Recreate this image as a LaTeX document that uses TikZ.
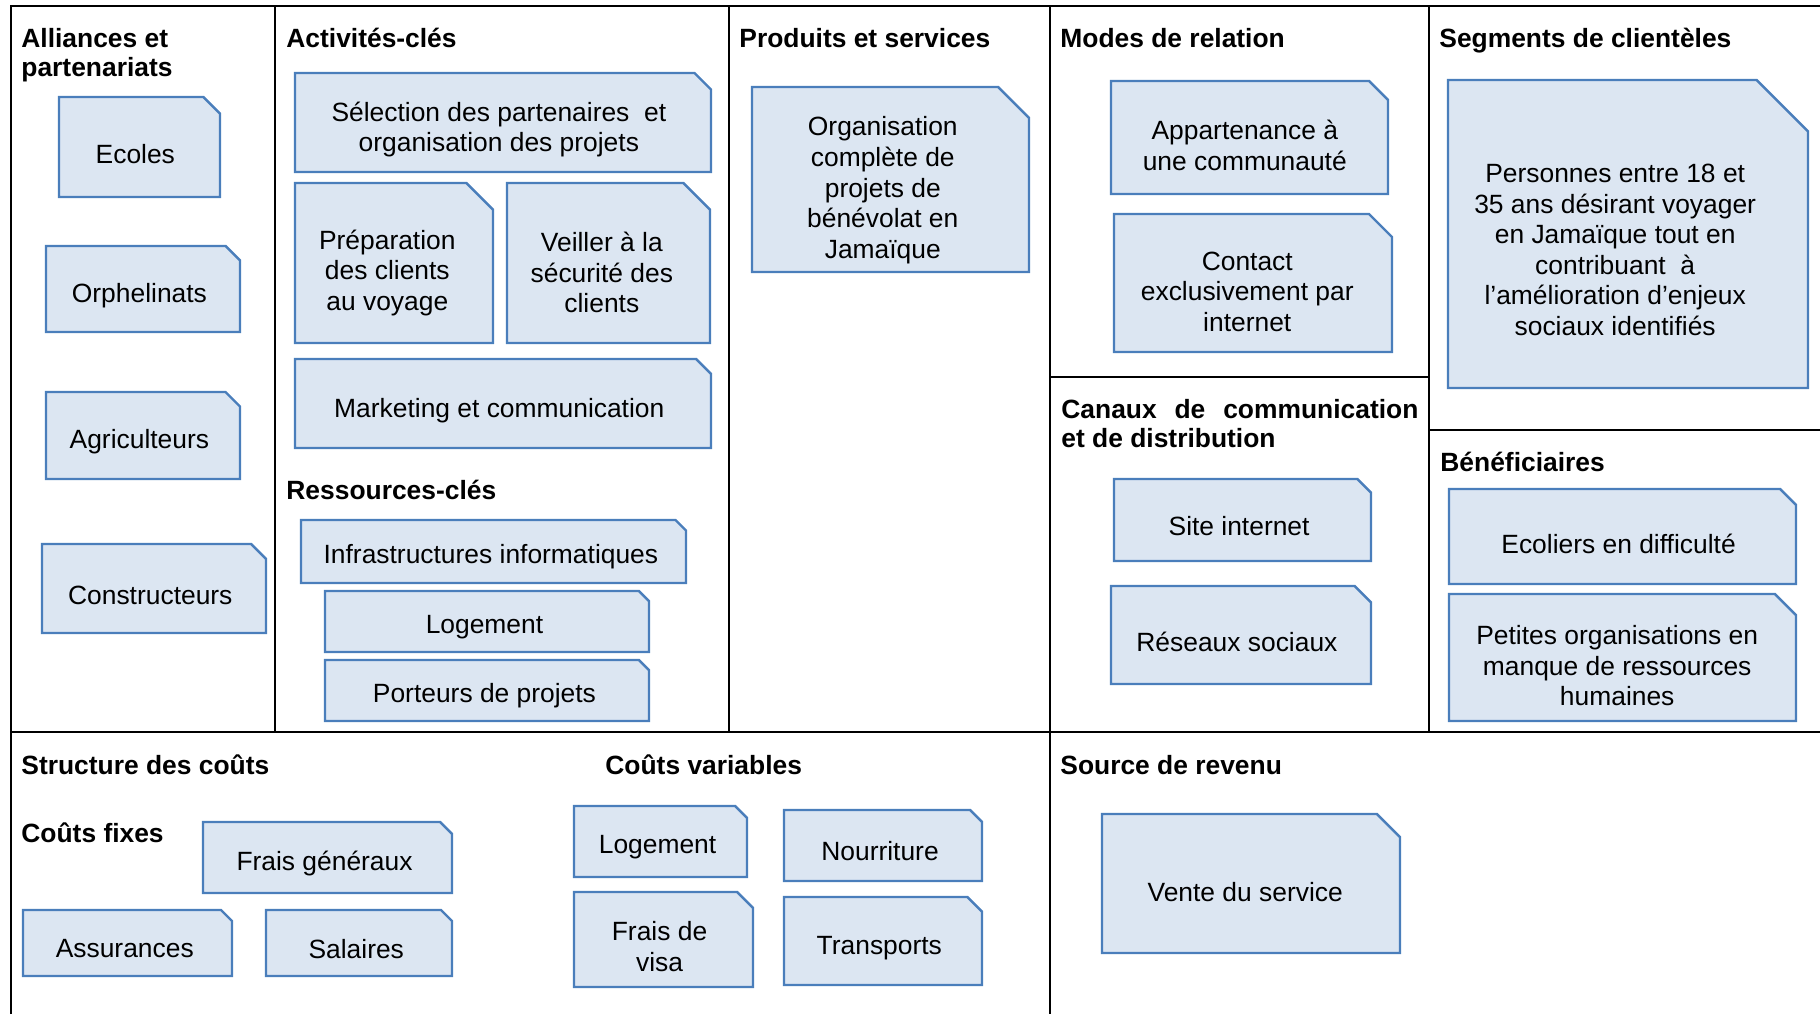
\documentclass[tikz,border=0pt]{standalone}
\usepackage{fontspec}
\setmainfont{Liberation Sans}
\definecolor{cardfill}{HTML}{DCE6F2}
\definecolor{cardline}{HTML}{4A7EBB}
\tikzset{
  cardshape/.style={draw=cardline, fill=cardfill, line width=1.2pt},
  card/.style={inner sep=0pt, align=center,
    font=\fontsize{13.2}{15.3}\selectfont},
  heading/.style={anchor=base west, inner sep=0pt, align=left,
    font=\fontsize{13.2}{14.5}\selectfont\bfseries},
  frame/.style={line width=1.3pt}
}
% card from its corners, snip = 1/6 of the short side
\newcommand*{\CardBox}[6]{%
  \pgfmathsetmacro{\CardC}{min(#4-#2,#5-#3)/6}%
  \filldraw[cardshape] (#2,#3) -- ({#4-\CardC},#3) -- (#4,{#3+\CardC})
    -- (#4,#5) -- (#2,#5) -- cycle;
  \node[card] (#1) at ({(#2+#4)/2-\CardC/4},{(#3+#5)/2+\CardC/4+3}) {#6};}

\begin{document}
\begin{tikzpicture}[x=0.5pt, y=-0.5pt]
\useasboundingbox (0,0) rectangle (1820,1014);

% Frame
\draw[frame] (11,1014) -- (11,6) -- (1820,6);
\draw[frame] (11,732) -- (1820,732);
\draw[frame] (275,6) -- (275,732);
\draw[frame] (729,6) -- (729,732);
\draw[frame] (1050,6) -- (1050,1014);
\draw[frame] (1429,6) -- (1429,732);
\draw[frame] (1050,377) -- (1429,377);
\draw[frame] (1429,430) -- (1820,430);

% Alliances et partenariats
\node[heading] (alliances) at (21,76) {Alliances et\\partenariats};
\CardBox{ecoles}{59}{97}{220}{197}{Ecoles}
\CardBox{orphelinats}{46}{246}{240}{332}{Orphelinats}
\CardBox{agriculteurs}{46}{392}{240}{479}{Agriculteurs}
\CardBox{constructeurs}{42}{544}{266}{633}{Constructeurs}

% Activites-cles
\node[heading] (activites) at (286,47) {Activités-clés};
\CardBox{selection}{295}{73}{711}{172}{Sélection des partenaires~ et\\organisation des projets}
\CardBox{preparation}{295}{183}{493}{343}{Préparation\\des clients\\au voyage}
\CardBox{securite}{507}{183}{710}{343}{Veiller à la\\sécurité des\\clients}
\CardBox{marketing}{295}{359}{711}{448}{Marketing et communication}

% Ressources-cles
\node[heading] (ressources) at (286,499) {Ressources-clés};
\CardBox{infra}{301}{520}{686}{583}{Infrastructures informatiques}
\CardBox{logement}{325}{591}{649}{652}{Logement}
\CardBox{porteurs}{325}{660}{649}{721}{Porteurs de projets}

% Produits et services
\node[heading] (produits) at (739,47) {Produits et services};
\CardBox{organisation}{752}{87}{1029}{272}{Organisation\\complète de\\projets de\\bénévolat en\\Jamaïque}

% Modes de relation
\node[heading] (modes) at (1060,47) {Modes de relation};
\CardBox{appartenance}{1111}{81}{1388}{194}{Appartenance à\\une communauté}
\CardBox{contact}{1114}{214}{1392}{352}{Contact\\exclusivement par\\internet}

% Canaux
\node[heading] (canaux) at (1061,447) {\makebox[178.5pt][s]{Canaux de communication}\\et de distribution};
\CardBox{site}{1114}{479}{1371}{561}{Site internet}
\CardBox{reseaux}{1111}{586}{1371}{684}{Réseaux sociaux}

% Segments de clienteles
\node[heading] (segments) at (1439,47) {Segments de clientèles};
\CardBox{personnes}{1448}{80}{1808}{388}{Personnes entre 18 et\\35 ans désirant voyager\\en Jamaïque tout en\\contribuant~ à\\l’amélioration d’enjeux\\sociaux identifiés}

% Beneficiaires
\node[heading] (beneficiaires) at (1440,471) {Bénéficiaires};
\CardBox{ecoliers}{1449}{489}{1796}{584}{Ecoliers en difficulté}
\CardBox{petites}{1449}{594}{1796}{721}{Petites organisations en\\manque de ressources\\humaines}

% Structure des couts
\node[heading] (structure) at (21,774) {Structure des coûts};
\node[heading] (fixes) at (21,842) {Coûts fixes};
\CardBox{frais}{203}{822}{452}{893}{Frais généraux}
\CardBox{assurances}{23}{910}{232}{976}{Assurances}
\CardBox{salaires}{266}{910}{452}{976}{Salaires}
\node[heading] (variables) at (605,774) {Coûts variables};
\CardBox{logementv}{574}{806}{747}{877}{Logement}
\CardBox{nourriture}{784}{810}{982}{881}{Nourriture}
\CardBox{visa}{574}{892}{753}{987}{Frais de\\visa}
\CardBox{transports}{784}{897}{982}{985}{Transports}

% Source de revenu
\node[heading] (revenu) at (1060,774) {Source de revenu};
\CardBox{vente}{1102}{814}{1400}{953}{Vente du service}

\end{tikzpicture}
\end{document}
